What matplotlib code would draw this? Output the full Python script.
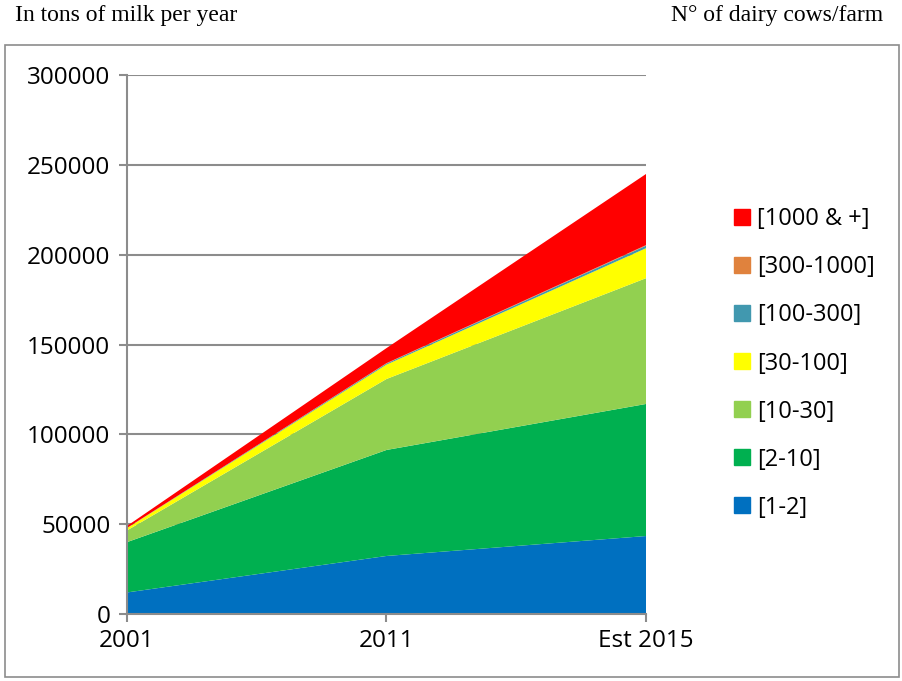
import matplotlib
matplotlib.use("Agg")
import matplotlib.pyplot as plt
from matplotlib.patches import Rectangle
from matplotlib.lines import Line2D
import numpy as np

years = ["2001", "2011", "Est 2015"]
series_names = ["[1-2]", "[2-10]", "[10-30]", "[30-100]", "[100-300]", "[300-1000]", "[1000 & +]"]
v_1_2 = [12000, 32300, 43400]
v_2_10 = [28000, 59000, 73500]
v_10_30 = [6500, 39500, 70000]
v_30_100 = [1300, 8000, 16700]
v_100_300 = [100, 600, 1400]
v_300_1000 = [0, 200, 300]
v_1000p = [1100, 8400, 39600]
colors = ["#0070C0", "#00B050", "#92D050", "#FFFF00", "#4198AF", "#E0823D", "#FF0000"]
yticks = [0, 50000, 100000, 150000, 200000, 250000, 300000]

W, H = 903, 681
fig = plt.figure(figsize=(W / 100, H / 100), dpi=100)
ax = fig.add_axes([127 / W, 1 - 614 / H, (646 - 127) / W, (614 - 75) / H])

x = np.arange(len(years))
data = [v_1_2, v_2_10, v_10_30, v_30_100, v_100_300, v_300_1000, v_1000p]
ax.stackplot(x, *data, colors=colors, linewidth=0)

ax.set_xlim(0, len(years) - 1)
ax.set_ylim(0, 300000)
ax.set_yticks(yticks)
ax.set_yticklabels([str(t) for t in yticks])
ax.set_xticks(x)
ax.set_xticklabels(years)
ax.grid(axis="y", color="#8C8C8C", linewidth=1.5)
ax.set_axisbelow(True)
for s in ["top", "right"]:
    ax.spines[s].set_visible(False)
for s in ["left", "bottom"]:
    ax.spines[s].set_color("#8C8C8C")
    ax.spines[s].set_linewidth(1.5)
ax.tick_params(axis="both", colors="#8C8C8C", length=6, width=1.5, labelcolor="black",
               labelsize=17.5)
ax.tick_params(axis="y", pad=6)
ax.tick_params(axis="x", pad=5)
for lab in ax.get_xticklabels() + ax.get_yticklabels():
    lab.set_family("Open Sans")

handles = [Line2D([], [], marker="s", linestyle="none", markersize=11,
                  markerfacecolor=c, markeredgecolor=c) for c in colors]
leg = fig.legend(handles[::-1], series_names[::-1], loc="upper left",
                 bbox_to_anchor=(709 / W, 1 - 186 / H), frameon=False,
                 prop={"family": "Open Sans", "size": 17}, labelspacing=1.02,
                 handletextpad=0.15, handlelength=1.0)

fig.text(15 / W, 1 - 15 / H, "In tons of milk per year", family="Liberation Serif",
         fontsize=17, va="center", ha="left")
fig.text(883 / W, 1 - 15 / H, "N° of dairy cows/farm", family="Liberation Serif",
         fontsize=17, va="center", ha="right")

fig.add_artist(Rectangle((5 / W, 1 - 677 / H), (899 - 5) / W, (677 - 45) / H,
                         transform=fig.transFigure, fill=False, edgecolor="#8C8C8C",
                         linewidth=1.2))

fig.savefig("out.png", dpi=100)
